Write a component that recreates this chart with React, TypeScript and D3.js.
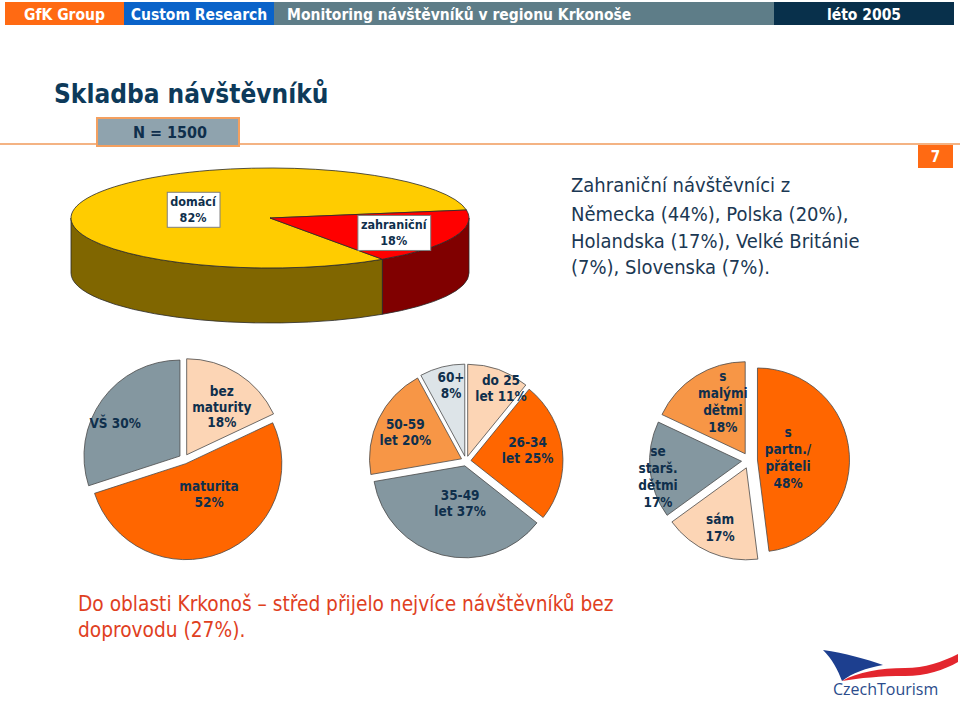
import { useEffect, useRef } from "react";
import * as d3 from "d3";

// hlavní 3D koláč
const originLabels = ["domácí|{v}%", "zahraniční|{v}%"];
const originValues = [82, 18];

// vzdělání
const eduLabels = ["bez|maturity|{v}%", "maturita|{v}%", "VŠ {v}%"];
const eduValues = [18, 52, 30];

// věk
const ageLabels = ["do 25|let {v}%", "26-34|let {v}%", "35-49|let {v}%", "50-59|let {v}%", "60+|{v}%"];
const ageValues = [11, 25, 37, 20, 8];

// doprovod
const companyLabels = ["s|partn./|přáteli|{v}%", "sám|{v}%", "se|starš.|dětmi|{v}%", "s|malými|dětmi|{v}%"];
const companyValues = [48, 17, 17, 18];

const foreignLines = [
  "Zahraniční návštěvníci z",
  "Německa (44%), Polska (20%),",
  "Holandska (17%), Velké Británie",
  "(7%), Slovenska (7%).",
];
const noteLines = ["Do oblasti Krkonoš – střed přijelo nejvíce návštěvníků bez", "doprovodu (27%)."];

const FONT = "'DejaVu Sans Condensed', 'DejaVu Sans', sans-serif";
const NAVY = "#0f2f4c";

type PieOpts = {
  cx: number;
  cy: number;
  r: number;
  explode: number;
  colors: string[];
  labelAt: [number, number][]; // [úhel ve stupních, podíl poloměru]
  lineH: number;
};

export default function App() {
  const ref = useRef<SVGSVGElement>(null);

  useEffect(() => {
    if (!ref.current) return;
    const svg = d3.select(ref.current);
    svg.selectAll("*").remove();

    // header
    const header = [
      { text: "GfK Group", x0: 5, x1: 124, fill: "#ff6a13", anchor: "middle" },
      { text: "Custom Research", x0: 124, x1: 274, fill: "#0a63c9", anchor: "middle" },
      { text: "Monitoring návštěvníků v regionu Krkonoše", x0: 274, x1: 774, fill: "#5e7d88", anchor: "start" },
      { text: "léto 2005", x0: 774, x1: 954, fill: "#08304b", anchor: "middle" },
    ];
    const hg = svg.append("g");
    hg.selectAll("rect")
      .data(header)
      .join("rect")
      .attr("x", (d) => d.x0)
      .attr("y", 2)
      .attr("width", (d) => d.x1 - d.x0)
      .attr("height", 23)
      .attr("fill", (d) => d.fill);
    hg.selectAll("text")
      .data(header)
      .join("text")
      .attr("x", (d) => (d.anchor === "middle" ? (d.x0 + d.x1) / 2 : d.x0 + 13))
      .attr("y", 19.5)
      .attr("text-anchor", (d) => d.anchor)
      .attr("fill", "white")
      .attr("font-family", FONT)
      .attr("font-weight", "bold")
      .attr("font-size", 15.5)
      .text((d) => d.text);

    // title
    svg.append("text")
      .attr("x", 54)
      .attr("y", 103)
      .attr("fill", "#0d3a5a")
      .attr("font-family", FONT)
      .attr("font-weight", "bold")
      .attr("font-size", 26)
      .text("Skladba návštěvníků");

    svg.append("line")
      .attr("x1", 0).attr("x2", 960)
      .attr("y1", 144).attr("y2", 144)
      .attr("stroke", "#f09a5a").attr("stroke-width", 1.5);

    svg.append("rect")
      .attr("x", 97).attr("y", 118).attr("width", 142).attr("height", 28)
      .attr("fill", "#8fa3ae").attr("stroke", "#f4a060").attr("stroke-width", 2);
    svg.append("text")
      .attr("x", 170).attr("y", 138)
      .attr("text-anchor", "middle")
      .attr("fill", NAVY)
      .attr("font-family", FONT).attr("font-weight", "bold").attr("font-size", 16)
      .text("N = 1500");

    svg.append("rect")
      .attr("x", 918).attr("y", 145).attr("width", 35).attr("height", 23)
      .attr("fill", "#ff6a13");
    svg.append("text")
      .attr("x", 935.5).attr("y", 162)
      .attr("text-anchor", "middle")
      .attr("fill", "white")
      .attr("font-family", FONT).attr("font-weight", "bold").attr("font-size", 15)
      .text("7");

    // text vpravo
    svg.append("text")
      .attr("font-family", FONT).attr("font-size", 20).attr("fill", "#1b3853")
      .selectAll("tspan")
      .data(foreignLines)
      .join("tspan")
      .attr("x", 571)
      .attr("y", (d, i) => (i === 0 ? 192 : 195 + i * 26.3))
      .text((d) => d);

    // ---- 3D koláč ----
    const cx = 270, cy = 218, rx = 199, ry = 50, depth = 55;
    const pie3 = d3.pie<number>().sort(null).value((d) => d)
      .startAngle((145.6 * Math.PI) / 180)
      .endAngle((145.6 * Math.PI) / 180 + 2 * Math.PI);
    const arcs3 = pie3(originValues);
    const topCols = ["#ffcc00", "#ff0000"];
    const sideCols = ["#806600", "#800000"];
    const pt = (t: number, dy = 0) => [cx + rx * Math.cos(t), cy + ry * Math.sin(t) + dy];
    const g3 = svg.append("g");
    arcs3.forEach((a, i) => {
      const ta = a.startAngle - Math.PI / 2;
      const tb = a.endAngle - Math.PI / 2;
      for (let k = -1; k <= 2; k++) {
        const lo = Math.max(ta, 2 * Math.PI * k);
        const hi = Math.min(tb, 2 * Math.PI * k + Math.PI);
        if (hi <= lo) continue;
        const [x0, y0] = pt(lo);
        const [x1, y1] = pt(hi);
        g3.append("path")
          .attr("d", `M${x0},${y0}A${rx},${ry} 0 0 1 ${x1},${y1}L${x1},${y1 + depth}A${rx},${ry} 0 0 0 ${x0},${y0 + depth}Z`)
          .attr("fill", sideCols[i])
          .attr("stroke", "#2a2a2a")
          .attr("stroke-width", 0.8)
          .attr("stroke-linejoin", "round");
      }
    });
    const arc3 = d3.arc<d3.PieArcDatum<number>>().innerRadius(0).outerRadius(rx);
    g3.append("g")
      .attr("transform", `translate(${cx},${cy}) scale(1,${ry / rx})`)
      .selectAll("path")
      .data(arcs3)
      .join("path")
      .attr("d", arc3)
      .attr("fill", (d, i) => topCols[i])
      .attr("stroke", "#2a2a2a")
      .attr("stroke-width", 0.8)
      .attr("vector-effect", "non-scaling-stroke");

    const label3At: [number, number][] = [[203, 0.42], [25.7, 0.69]];
    arcs3.forEach((a, i) => {
      const t = (label3At[i][0] * Math.PI) / 180;
      const f = label3At[i][1];
      const lx = cx + rx * f * Math.cos(t);
      const ly = cy + ry * f * Math.sin(t);
      const lines = originLabels[i].replace("{v}", String(a.value)).split("|");
      const lg = g3.append("g");
      const box = lg.append("rect").attr("fill", "white").attr("stroke", "#7f7f7f").attr("stroke-width", 1);
      const tx = lg.append("text")
        .attr("text-anchor", "middle")
        .attr("font-family", FONT).attr("font-weight", "bold").attr("font-size", 12.5)
        .attr("fill", NAVY);
      const lh = 16;
      lines.forEach((s, j) => {
        tx.append("tspan")
          .attr("x", lx)
          .attr("y", ly + (j - (lines.length - 1) / 2) * lh + 4.5)
          .text(s);
      });
      const bb = (tx.node() as SVGTextElement).getBBox();
      box.attr("x", bb.x - 3).attr("y", bb.y - 2).attr("width", bb.width + 6).attr("height", bb.height + 4);
    });

    // ---- ploché rozložené koláče ----
    const drawPie = (values: number[], labels: string[], o: PieOpts) => {
      const pie = d3.pie<number>().sort(null).value((d) => d);
      const arcs = pie(values);
      const arc = d3.arc<d3.PieArcDatum<number>>().innerRadius(0).outerRadius(o.r);
      const g = svg.append("g").attr("transform", `translate(${o.cx},${o.cy})`);
      g.selectAll("path")
        .data(arcs)
        .join("path")
        .attr("transform", (d) => {
          const m = (d.startAngle + d.endAngle) / 2;
          return `translate(${o.explode * Math.sin(m)},${-o.explode * Math.cos(m)})`;
        })
        .attr("d", arc)
        .attr("fill", (d, i) => o.colors[i])
        .attr("stroke", "#4a4a4a")
        .attr("stroke-width", 0.8)
        .attr("stroke-linejoin", "round");
      arcs.forEach((a, i) => {
        const ang = (o.labelAt[i][0] * Math.PI) / 180;
        const rr = o.labelAt[i][1] * o.r;
        const lx = rr * Math.sin(ang);
        const ly = -rr * Math.cos(ang);
        const lines = labels[i].replace("{v}", String(a.value)).split("|");
        const t = g.append("text")
          .attr("text-anchor", "middle")
          .attr("font-family", FONT).attr("font-weight", "bold").attr("font-size", 13.5)
          .attr("fill", NAVY);
        lines.forEach((s, j) => {
          t.append("tspan")
            .attr("x", lx)
            .attr("y", ly + (j - (lines.length - 1) / 2) * o.lineH + 5)
            .text(s);
        });
      });
    };

    const gray = "#8497a0", peach = "#fcd5b5", orange = "#ff6600", lightOrange = "#f79646", paleGray = "#dde4e8";

    drawPie(eduValues, eduLabels, {
      cx: 184, cy: 459, r: 96, explode: 5,
      colors: [peach, orange, gray],
      labelAt: [[36, 0.67], [144.5, 0.45], [297.6, 0.81]],
      lineH: 15.5,
    });
    drawPie(ageValues, ageLabels, {
      cx: 466, cy: 461, r: 92, explode: 5,
      colors: [peach, orange, gray, lightOrange, paleGray],
      labelAt: [[25.6, 0.88], [80, 0.68], [188, 0.46], [295.4, 0.73], [348.8, 0.84]],
      lineH: 16.5,
    });
    drawPie(companyValues, companyLabels, {
      cx: 749.5, cy: 460.5, r: 92, explode: 8,
      colors: [orange, peach, gray, lightOrange],
      labelAt: [[86, 0.42], [203.6, 0.8], [260, 1.01], [335.6, 0.7]],
      lineH: 17,
    });

    // poznámka dole
    svg.append("text")
      .attr("font-family", FONT).attr("font-size", 20.7).attr("fill", "#e0401e")
      .selectAll("tspan")
      .data(noteLines)
      .join("tspan")
      .attr("x", 78)
      .attr("y", (d, i) => 611 + i * 26)
      .text((d) => d);

    // logo CzechTourism
    const logo = svg.append("g");
    logo.append("path")
      .attr("d", "M823,650 C845,653 866,659 883,665 C866,668 852,673 842,681 C838,670 832,659 823,650 Z")
      .attr("fill", "#1d3f8f");
    logo.append("path")
      .attr("d", "M842,681 C858,672 880,668 905,668 C925,668 942,662 958,654 L958,662 C944,670 926,676 905,676 C880,676 860,678 842,681 Z")
      .attr("fill", "#e3262e");
    logo.append("text")
      .attr("x", 833).attr("y", 695)
      .attr("font-family", "'Open Sans', sans-serif")
      .attr("font-size", 16)
      .attr("fill", "#2b4c8c")
      .text("CzechTourism");
  }, []);

  return (
    <svg
      ref={ref}
      width={960}
      height={701}
      style={{ position: "absolute", left: 0, top: 0, background: "white" }}
    />
  );
}
